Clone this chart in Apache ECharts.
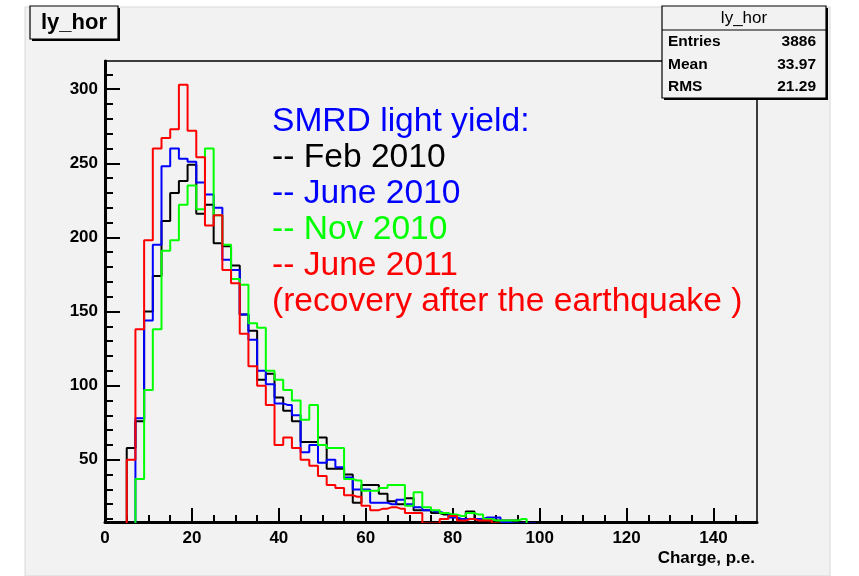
<!DOCTYPE html>
<html>
<head>
<meta charset="utf-8">
<script src="https://cdn.jsdelivr.net/npm/echarts@6/dist/echarts.min.js"></script>
<style>
  html, body { margin: 0; padding: 0; background: #ffffff; }
  #chart { width: 859px; height: 576px; }
</style>
</head>
<body>
<div id="chart"></div>
<script>
// Histogram binning: 2 p.e. wide bins, first listed bin spans [5, 7]
const binLow = 5;
const binWidth = 2;

// Bin contents (counts per bin), consecutive bins starting at binLow
const feb2010 = [58, 76, 150, 174, 211, 230, 238, 249, 216, 222, 196, 194, 181, 148, 137, 104, 108, 92, 83, 76,
  62, 62, 65, 44, 44, 40, 21, 33, 33, 27, 22, 20, 24, 16, 16, 14, 13, 12, 10, 15, 10, 10, 9, 9, 9, 7, 6];
const june2010 = [0, 78, 144, 195, 248, 260, 253, 251, 237, 229, 220, 185, 178, 148, 131, 110, 101, 88, 87, 80,
  55, 60, 48, 50, 45, 38, 30, 30, 21, 21, 20, 23, 20, 18, 16, 15, 14, 11, 10, 10, 10, 11, 11, 8, 7, 7, 7];
const nov2010 = [0, 37, 97, 138, 191, 198, 222, 235, 219, 260, 215, 195, 172, 168, 142, 139, 110, 104, 97, 90,
  77, 87, 60, 58, 58, 37, 36, 29, 29, 31, 33, 33, 19, 28, 18, 16, 14, 13, 12, 14, 13, 10, 9, 9, 9, 10, 6];
const june2011 = [50, 138, 198, 260, 267, 273, 303, 272, 254, 208, 215, 178, 169, 135, 113, 100, 87, 60, 65, 58,
  50, 46, 39, 33, 31, 26, 25, 19, 16, 17, 18, 17, 14, 14, 7, 7, 10, 12, 9, 10, 9, 9, 7, 5, 4, 3, 2];

// Axis tick positions
const xMajorTicks = [0, 20, 40, 60, 80, 100, 120, 140];
const xMinorTicks = [5, 10, 15, 25, 30, 35, 45, 50, 55, 65, 70, 75, 85, 90, 95, 105, 110, 115, 125, 130, 135, 145];
const yMajorTicks = [50, 100, 150, 200, 250, 300];
const yMinorTicks = [10, 20, 30, 40, 60, 70, 80, 90, 110, 120, 130, 140, 160, 170, 180, 190,
  210, 220, 230, 240, 260, 270, 280, 290, 310];

// Statistics box text
const statTitle = 'ly_hor';
const statRows = [['Entries', '3886'], ['Mean', '33.97'], ['RMS', '21.29']];

// Legend-style annotation lines
const noteLines = [
  ['SMRD light yield:', '#0000ff'],
  ['-- Feb 2010', '#000000'],
  ['-- June 2010', '#0000ff'],
  ['-- Nov 2010', '#00ff00'],
  ['-- June 2011', '#ff0000'],
  ['(recovery after the earthquake )', '#ff0000']
];

// Turn bin contents into [binCenter, count] points, padded with empty bins on both ends
function toPoints(counts) {
  const pts = [[binLow - binWidth / 2, 0]];
  counts.forEach((c, i) => pts.push([binLow + binWidth * i + binWidth / 2, c]));
  pts.push([binLow + binWidth * counts.length + binWidth / 2, 0]);
  pts.push([160, 0]);
  return pts;
}

const FONT = "'Liberation Sans', Arial, Helvetica, sans-serif";
const PAD_BG = '#f2f2f2';

function histSeries(name, counts, color) {
  return {
    name: name,
    type: 'line',
    step: 'middle',
    data: toPoints(counts),
    xAxisIndex: 0,
    yAxisIndex: 0,
    symbol: 'none',
    clip: true,
    lineStyle: { color: color, width: 2 },
    animation: false
  };
}

const chart = echarts.init(document.getElementById('chart'), null, { renderer: 'canvas' });

const graphics = [
  // pad background
  { type: 'rect', z: -100, shape: { x: 25, y: 7, width: 805, height: 569 },
    style: { fill: PAD_BG, stroke: '#d8d8d8', lineWidth: 1 } },
  // histogram title box with shadow
  { type: 'rect', z: 100, shape: { x: 32, y: 8, width: 88, height: 33 }, style: { fill: '#000' } },
  { type: 'rect', z: 101, shape: { x: 30, y: 6, width: 88, height: 33 },
    style: { fill: PAD_BG, stroke: '#000', lineWidth: 1.2 } },
  { type: 'text', z: 102, x: 74, y: 23,
    style: { text: 'ly_hor', fill: '#000', font: 'bold 22px ' + FONT, textAlign: 'center', textVerticalAlign: 'middle' } },
  // statistics box with shadow
  { type: 'rect', z: 100, shape: { x: 664, y: 8, width: 164, height: 92 }, style: { fill: '#000' } },
  { type: 'rect', z: 101, shape: { x: 662, y: 6, width: 164, height: 92 },
    style: { fill: PAD_BG, stroke: '#000', lineWidth: 1.2 } },
  { type: 'line', z: 102, shape: { x1: 662, y1: 30, x2: 826, y2: 30 }, style: { stroke: '#000', lineWidth: 1.2 } },
  { type: 'text', z: 102, x: 744, y: 18,
    style: { text: statTitle, fill: '#000', font: '17px ' + FONT, textAlign: 'center', textVerticalAlign: 'middle' } },
  // axis title
  { type: 'text', z: 10, x: 755, y: 558,
    style: { text: 'Charge, p.e.', fill: '#000', font: 'bold 17px ' + FONT, textAlign: 'right', textVerticalAlign: 'middle' } }
];

statRows.forEach((row, i) => {
  const y = 42 + i * 22.5;
  graphics.push({ type: 'text', z: 102, x: 668, y: y,
    style: { text: row[0], fill: '#000', font: 'bold 15.5px ' + FONT, textAlign: 'left', textVerticalAlign: 'middle' } });
  graphics.push({ type: 'text', z: 102, x: 816, y: y,
    style: { text: row[1], fill: '#000', font: 'bold 15.5px ' + FONT, textAlign: 'right', textVerticalAlign: 'middle' } });
});

noteLines.forEach((ln, i) => {
  graphics.push({ type: 'text', z: 50, x: 272, y: 122 + i * 36,
    style: { text: ln[0], fill: ln[1], font: '33.6px ' + FONT, textAlign: 'left', textVerticalAlign: 'middle' } });
});

const labelStyle = { color: '#000', fontFamily: FONT, fontWeight: 'bold', fontSize: 17 };

const option = {
  backgroundColor: '#ffffff',
  animation: false,
  grid: {
    left: 105, right: 102, top: 61, bottom: 54,
    show: true, backgroundColor: 'transparent', borderColor: '#000', borderWidth: 1.5,
    containLabel: false
  },
  xAxis: [
    {
      type: 'value', min: 0, max: 150, position: 'bottom',
      axisLine: { show: true, onZero: false, lineStyle: { color: '#000', width: 3 } },
      axisTick: { show: true, inside: true, length: 14, customValues: xMajorTicks, lineStyle: { color: '#000', width: 2 } },
      axisLabel: { show: true, customValues: xMajorTicks, margin: 8, ...labelStyle },
      splitLine: { show: false }
    },
    {
      type: 'value', min: 0, max: 150, position: 'bottom',
      axisLine: { show: false },
      axisTick: { show: true, inside: true, length: 7, customValues: xMinorTicks, lineStyle: { color: '#000', width: 2 } },
      axisLabel: { show: false },
      splitLine: { show: false }
    }
  ],
  yAxis: [
    {
      type: 'value', min: 8, max: 319, position: 'left',
      axisLine: { show: true, onZero: false, lineStyle: { color: '#000', width: 3 } },
      axisTick: { show: true, inside: true, length: 15, customValues: yMajorTicks, lineStyle: { color: '#000', width: 2 } },
      axisLabel: { show: true, customValues: yMajorTicks, margin: 7, ...labelStyle },
      splitLine: { show: false }
    },
    {
      type: 'value', min: 8, max: 319, position: 'left',
      axisLine: { show: false },
      axisTick: { show: true, inside: true, length: 8, customValues: yMinorTicks, lineStyle: { color: '#000', width: 2 } },
      axisLabel: { show: false },
      splitLine: { show: false }
    }
  ],
  graphic: graphics,
  series: [
    histSeries('Feb 2010', feb2010, '#000000'),
    histSeries('June 2010', june2010, '#0000ff'),
    histSeries('Nov 2010', nov2010, '#00ff00'),
    histSeries('June 2011', june2011, '#ff0000')
  ]
};

chart.setOption(option);
</script>
</body>
</html>
